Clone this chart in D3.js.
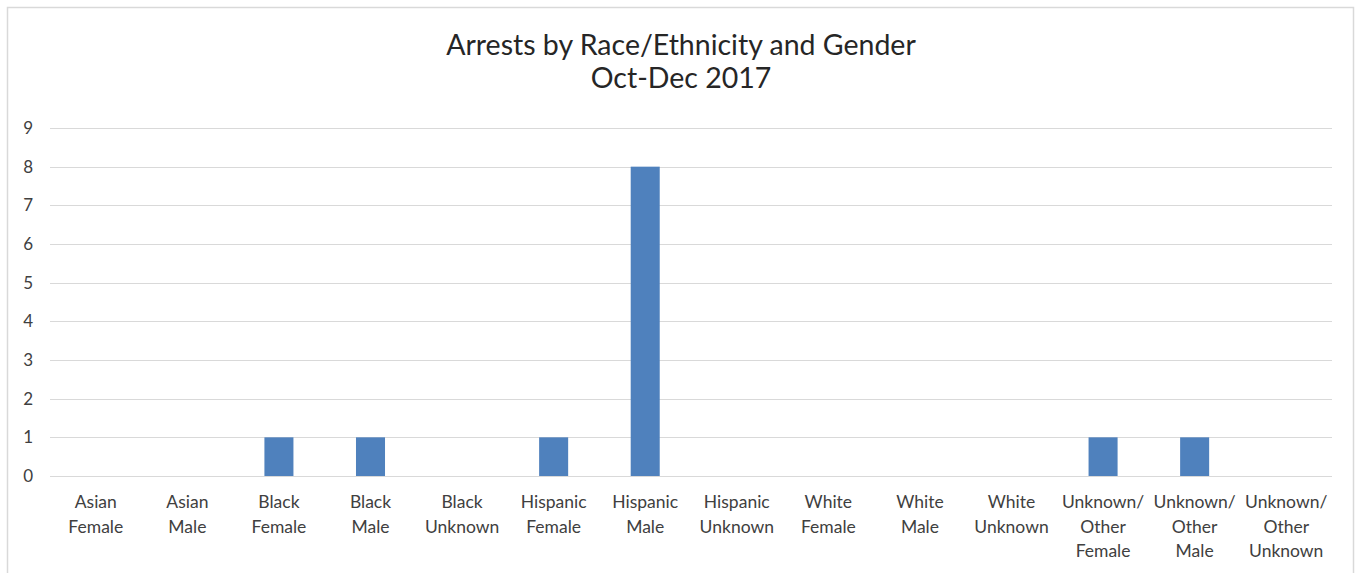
<!DOCTYPE html>
<html>
<head>
<meta charset="utf-8">
<script src="https://cdn.jsdelivr.net/npm/d3@7"></script>
<style>
  body { margin: 0; background: #fff; }
  #chart { width: 1359px; height: 573px; }
</style>
</head>
<body>
<div id="chart"></div>
<script>
const titleLines = ['Arrests by Race/Ethnicity and Gender', 'Oct-Dec 2017'];
const categories = [
    ['Asian', 'Female'], ['Asian', 'Male'], ['Black', 'Female'], ['Black', 'Male'],
    ['Black', 'Unknown'], ['Hispanic', 'Female'], ['Hispanic', 'Male'], ['Hispanic', 'Unknown'],
    ['White', 'Female'], ['White', 'Male'], ['White', 'Unknown'],
    ['Unknown/', 'Other', 'Female'], ['Unknown/', 'Other', 'Male'], ['Unknown/', 'Other', 'Unknown']
];
const arrests = [0, 0, 1, 1, 0, 1, 8, 0, 0, 0, 0, 1, 1, 0];
const yTicks = [0, 1, 2, 3, 4, 5, 6, 7, 8, 9];

function createArrestsChart() {
    const container = document.getElementById('chart');
    const W = 1359, H = 573;
    const plot = { left: 50, right: 1332, top: 128, bottom: 476 };
    const font = 'Lato, "Open Sans", sans-serif';

    const svg = d3.select(container)
        .append('svg')
        .attr('width', W)
        .attr('height', H);

    // chart frame
    svg.append('rect')
        .attr('x', 7.5)
        .attr('y', 7.5)
        .attr('width', 1346)
        .attr('height', 580)
        .attr('fill', '#fff')
        .attr('stroke', '#d9d9d9')
        .attr('stroke-width', 1.5);

    const data = categories.map((c, i) => ({ label: c, key: c.join(' '), value: arrests[i] }));

    const x = d3.scaleBand()
        .domain(data.map(d => d.key))
        .range([plot.left, plot.right])
        .paddingInner(0.683)
        .paddingOuter(0.3415);

    const y = d3.scaleLinear()
        .domain([0, 9])
        .range([plot.bottom, plot.top]);

    // gridlines
    svg.append('g')
        .selectAll('line')
        .data(yTicks)
        .enter()
        .append('line')
        .attr('x1', plot.left)
        .attr('x2', plot.right)
        .attr('y1', d => Math.round(y(d)) + 0.5)
        .attr('y2', d => Math.round(y(d)) + 0.5)
        .attr('stroke', '#d9d9d9')
        .attr('stroke-width', 1);

    // y axis labels
    const yAxis = svg.append('g')
        .attr('transform', `translate(${plot.left},0)`)
        .call(d3.axisLeft(y).tickValues(yTicks).tickSize(0).tickPadding(17));
    yAxis.select('.domain').remove();
    yAxis.selectAll('text')
        .style('fill', '#404040')
        .style('font-family', font)
        .style('font-size', '17px');

    // bars
    svg.selectAll('.bar')
        .data(data)
        .enter()
        .append('rect')
        .attr('class', 'bar')
        .attr('x', d => x(d.key))
        .attr('y', d => y(d.value))
        .attr('width', x.bandwidth())
        .attr('height', d => y(0) - y(d.value))
        .attr('fill', '#4f81bd');

    // x axis labels (multi-line)
    const xAxis = svg.append('g')
        .attr('transform', `translate(0,${plot.bottom})`)
        .call(d3.axisBottom(x).tickSize(0).tickFormat(''));
    xAxis.select('.domain').remove();
    xAxis.selectAll('.tick').each(function (key) {
        const d = data.find(e => e.key === key);
        const t = d3.select(this).append('text')
            .attr('fill', '#404040')
            .style('font-family', font)
            .style('font-size', '17.5px')
            .attr('text-anchor', 'middle');
        d.label.forEach((line, i) => {
            t.append('tspan')
                .attr('x', 0)
                .attr('y', 32 + i * 24.5)
                .text(line);
        });
    });

    // title
    svg.append('g')
        .selectAll('text')
        .data(titleLines)
        .enter()
        .append('text')
        .attr('x', 681)
        .attr('y', (d, i) => 55 + i * 33)
        .attr('text-anchor', 'middle')
        .style('fill', '#262626')
        .style('font-family', font)
        .style('font-size', '28.5px')
        .text(d => d);
}

createArrestsChart();
</script>
</body>
</html>
